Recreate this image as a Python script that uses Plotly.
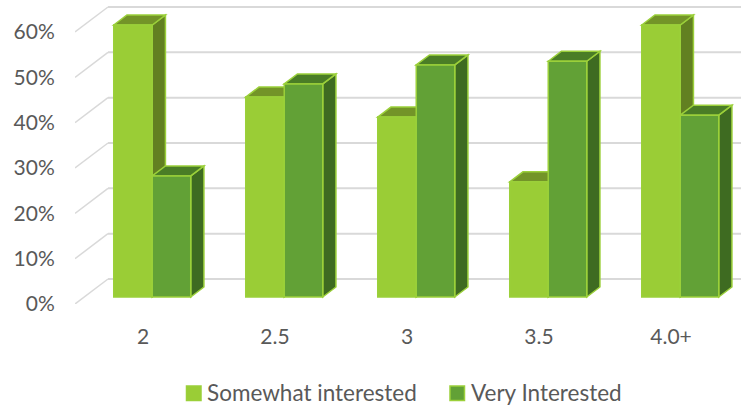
import plotly.graph_objects as go

categories = ["2", "2.5", "3", "3.5", "4.0+"]
somewhat = [60, 44.1, 39.7, 25.4, 60]
very = [26.7, 47, 51.2, 52, 40.1]
y_ticks = [0, 10, 20, 30, 40, 50, 60]

W, H = 741, 412
ML, MB = 75, 108
PX_X = 132.0
PX_Y = 272 / 60
DX = 33 / PX_X
DY = 25 / PX_Y
D0, D1 = 0.28, 0.68
BAR_W = 38.5 / PX_X
X_MIN = (75 - 143) / PX_X
X_MAX = (741 - 143) / PX_X
Y_MAX = 304 / PX_Y

GRID = "#d9d9d9"
EDGE = "#9bd03a"
TXT = "#595959"
FONT = "Lato"


def poly(pts, fill):
    d = "M" + " L".join(f"{x:.4f},{y:.4f}" for x, y in pts) + " Z"
    return dict(type="path", path=d, xref="x", yref="y", layer="below",
                fillcolor=fill, line=dict(color=EDGE, width=1.5))


def px(x):
    return (x - ML) / (W - ML)


def py(y):
    return (H - MB - y) / (H - MB)


shapes = []
for t in y_ticks:
    shapes.append(dict(type="line", xref="x", yref="y", layer="below",
                       x0=X_MIN, y0=t, x1=X_MIN + DX, y1=t + DY,
                       line=dict(color=GRID, width=1.5)))
    shapes.append(dict(type="line", xref="x", yref="y", layer="below",
                       x0=X_MIN + DX, y0=t + DY, x1=X_MAX, y1=t + DY,
                       line=dict(color=GRID, width=2)))

series = [(somewhat, 0, "#628021", "#739428"),
          (very, 1, "#3e6b21", "#4a7d26")]
for vals, k, side, top in series:
    for i, v in enumerate(vals):
        xl = i + D0 * DX - BAR_W + k * BAR_W
        xr = xl + BAR_W
        y0 = D0 * DY
        yt = y0 + v
        sx = (D1 - D0) * DX
        sy = (D1 - D0) * DY
        shapes.append(poly([(xr, y0), (xr + sx, y0 + sy), (xr + sx, yt + sy), (xr, yt)], side))
        shapes.append(poly([(xl, yt), (xl + sx, yt + sy), (xr + sx, yt + sy), (xr, yt)], top))

idx = list(range(len(categories)))
fig = go.Figure()
names = ["Somewhat interested", "Very Interested"]
fronts = ["#9acd36", "#62a136"]
for k, (name, vals, front) in enumerate(zip(names, [somewhat, very], fronts)):
    fig.add_trace(go.Bar(
        x=idx, y=vals, base=[D0 * DY] * len(vals), name=name,
        width=BAR_W, offset=D0 * DX - BAR_W + k * BAR_W,
        marker=dict(color=front, line=dict(color=EDGE, width=1.5)),
    ))

annotations = []
for name, front, sw_x, txt_x in zip(names, fronts, [186.5, 450], [205, 469]):
    shapes.append(dict(type="rect", xref="paper", yref="paper", layer="above",
                       x0=px(sw_x), x1=px(sw_x + 14.5), y0=py(400.5), y1=py(386),
                       fillcolor=front, line=dict(color=EDGE, width=1.5)))
    annotations.append(dict(xref="paper", yref="paper", x=px(txt_x), y=py(392.5),
                            text=name, showarrow=False, xanchor="left", yanchor="middle",
                            font=dict(family=FONT, size=22.5, color=TXT)))

fig.update_layout(
    width=W, height=H, autosize=False,
    margin=dict(l=ML, r=0, t=0, b=MB),
    paper_bgcolor="white", plot_bgcolor="white",
    barmode="overlay", shapes=shapes, annotations=annotations,
    font=dict(family=FONT, size=21, color=TXT),
    xaxis=dict(range=[X_MIN, X_MAX], tickmode="array", tickvals=idx, ticktext=categories,
               showgrid=False, zeroline=False, showline=False,
               ticks="outside", ticklen=14, tickcolor="rgba(0,0,0,0)", tickfont=dict(size=21, color=TXT)),
    yaxis=dict(range=[0, Y_MAX], tickmode="array", tickvals=y_ticks,
               ticktext=[f"{t}%" for t in y_ticks],
               showgrid=False, zeroline=False, showline=False,
               ticks="outside", ticklen=15, tickcolor="rgba(0,0,0,0)", tickfont=dict(size=21, color=TXT)),
    showlegend=False,
)
fig.write_html("out.html", config={"displayModeBar": False},
               post_script="document.body.style.margin='0';document.documentElement.style.overflow='hidden';")
